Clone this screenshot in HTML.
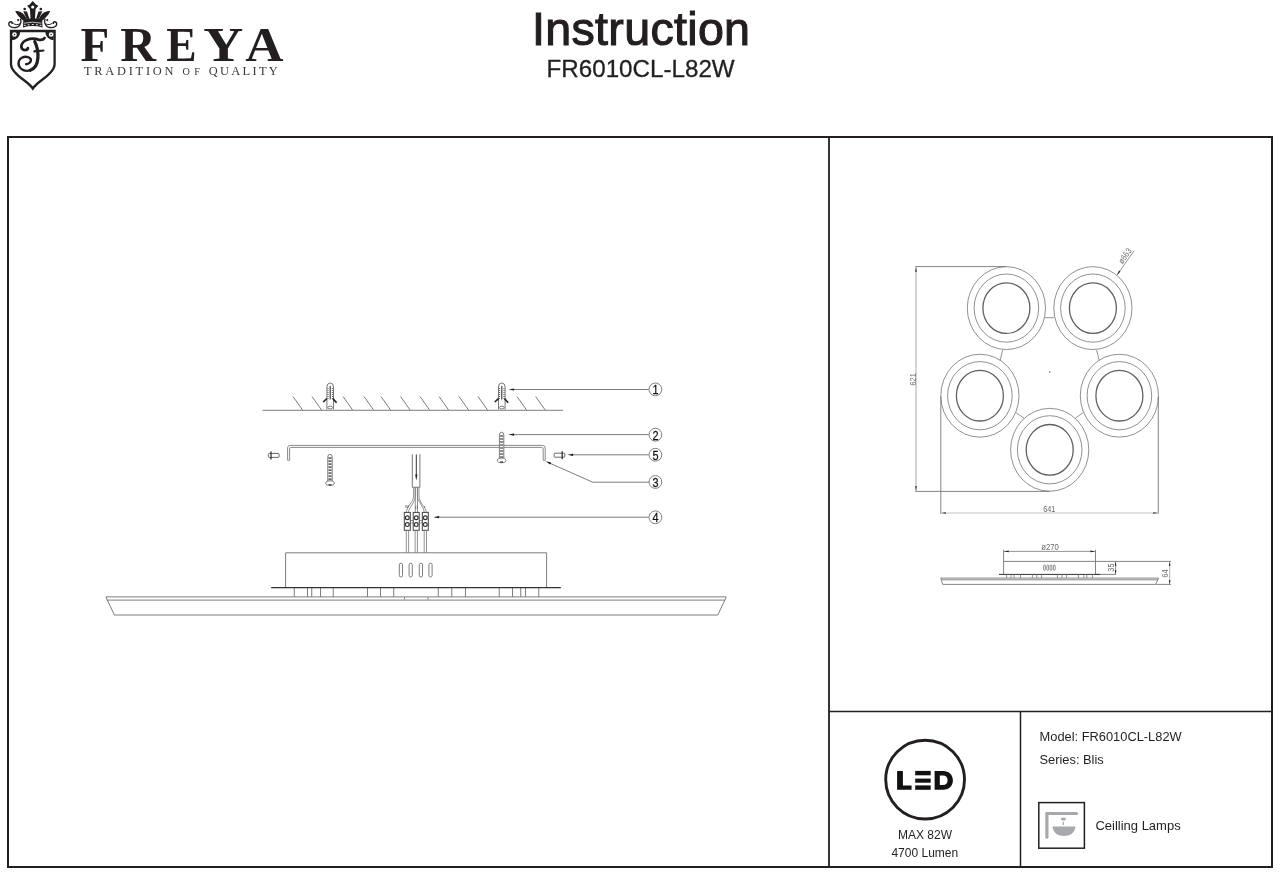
<!DOCTYPE html>
<html>
<head>
<meta charset="utf-8">
<style>
html,body{margin:0;padding:0;background:#fff;}
body{width:1280px;height:875px;overflow:hidden;position:relative;font-family:"Liberation Sans",sans-serif;}
svg{position:absolute;left:0;top:0;will-change:transform;}
</style>
</head>
<body>
<svg width="1280" height="875" viewBox="0 0 1280 875">
<!-- FRAME -->
<g fill="none" stroke="#231f20">
  <rect x="8" y="137" width="1264" height="730" stroke-width="2"/>
  <line x1="829" y1="137" x2="829" y2="867" stroke-width="1.8"/>
  <line x1="829" y1="711.5" x2="1272" y2="711.5" stroke-width="1.5"/>
  <line x1="1020.5" y1="711.5" x2="1020.5" y2="867" stroke-width="1.5"/>
</g>
<!-- HEADER -->
<g fill="#231f20" font-family="Liberation Sans">
  <text x="641.2" y="45.1" font-size="46.6" letter-spacing="0.3" text-anchor="middle" stroke="#231f20" stroke-width="1.1">Instruction</text>
  <text x="640.6" y="77.3" font-size="24.2" text-anchor="middle" stroke="#231f20" stroke-width="0.3">FR6010CL-L82W</text>
</g>
<!-- LOGO TEXT -->
<g fill="#231f20" font-family="Liberation Serif" font-weight="bold" font-size="49.5">
  <text transform="translate(80.6,60.9) scale(0.95,1)">F</text>
  <text transform="translate(120.3,60.9) scale(1.0,1)">R</text>
  <text transform="translate(166.3,60.9) scale(0.92,1)">E</text>
  <text transform="translate(203.2,60.9) scale(1.12,1)">Y</text>
  <text transform="translate(245.2,60.9) scale(1.07,1)">A</text>
</g>
<g fill="#3a3738" font-family="Liberation Serif" font-size="12.4">
  <text x="84" y="74.8" textLength="89.4" lengthAdjust="spacing">TRADITION</text>
  <text x="182.6" y="74.8" font-size="10.2" textLength="17.4" lengthAdjust="spacing">OF</text>
  <text x="208.8" y="74.8" textLength="69" lengthAdjust="spacing">QUALITY</text>
</g>
<!-- @LOGO -->
<!-- LOGO SHIELD -->
<g fill="#231f20">
<path d="M11.0,31.0 H54.6 V64.5 C54.6,70 47.6,76 40.6,81 C36.6,84 34.3,86.2 32.8,88.6 C31.3,86.2 29,84 25,81 C18,76 11.0,70 11.0,64.5 Z" fill="none" stroke="#231f20" stroke-width="2.3" stroke-linejoin="miter" stroke-miterlimit="10"/>
<path d="M12,32 H20.2 A8.2,8.2 0 0 1 12,40.2 Z"/>
<path d="M53.6,32 H45.4 A8.2,8.2 0 0 0 53.6,40.2 Z"/>
<circle cx="14.5" cy="34.5" r="2.3" fill="#fff"/><circle cx="14.5" cy="34.5" r="0.8"/>
<circle cx="51.1" cy="34.5" r="2.3" fill="#fff"/><circle cx="51.1" cy="34.5" r="0.8"/>
<path d="M23.3,20.2 Q32.74,17.6 42.2,20.2 L42.5,27.4 Q32.74,24.8 23,27.4 Z"/>
<path d="M23.3,20.4 L25.5,18.4 H40 L42.2,20.4 Z"/>
<path d="M24,23.2 Q32.74,21.2 41.5,23.2" fill="none" stroke="#fff" stroke-width="0.7"/>
<ellipse cx="24.90" cy="25.30" rx="1.1" ry="0.55" fill="#fff"/>
<ellipse cx="28.60" cy="24.70" rx="1.1" ry="0.55" fill="#fff"/>
<ellipse cx="32.74" cy="24.50" rx="1.1" ry="0.55" fill="#fff"/>
<ellipse cx="36.90" cy="24.70" rx="1.1" ry="0.55" fill="#fff"/>
<ellipse cx="40.60" cy="25.30" rx="1.1" ry="0.55" fill="#fff"/>
<path d="M32.74,1.0 L29.6,4.5 L27.1,5.7 L29.9,9 L30.6,19.5 H34.9 L35.6,9 L38.4,5.7 L35.9,4.5 Z"/>
<circle cx="32.74" cy="7.0" r="1.6" fill="#fff"/>
<path d="M15.26,11.14 C19.3,10.9 24,12.6 26.6,19.2 L23.2,20.5 C21,19 17.6,15.6 15.26,11.14 Z"/>
<path d="M50.22,11.14 C46.18,10.9 41.48,12.6 38.88,19.2 L42.28,20.5 C44.48,19 47.88,15.6 50.22,11.14 Z"/>
<path d="M23.2,11.3 L27.0,11.5 L29.4,18.8 L26.6,18.8 Z"/>
<path d="M42.28,11.3 L38.48,11.5 L36.08,18.8 L38.88,18.8 Z"/>
<circle cx="24.7" cy="9" r="1.35"/><circle cx="40.8" cy="9" r="1.35"/>
<path d="M20.50,19.3 C21.60,21.5 20.50,25.5 17.80,26.8 C15.50,27.8 12.00,27.6 10.20,26.5 C8.30,25.3 8.30,22.8 10.00,22 C11.00,21.5 12.30,22 12.20,23" fill="none" stroke="#231f20" stroke-width="1.4" stroke-linecap="round"/>
<path d="M13.30,23.3 C14.80,24.7 17.60,25.1 19.90,23.8" fill="none" stroke="#231f20" stroke-width="1"/>
<circle cx="18.20" cy="20.1" r="1.05"/>
<circle cx="12.10" cy="23.1" r="0.9"/>
<path d="M44.98,19.3 C43.88,21.5 44.98,25.5 47.68,26.8 C49.98,27.8 53.48,27.6 55.28,26.5 C57.18,25.3 57.18,22.8 55.48,22 C54.48,21.5 53.18,22 53.28,23" fill="none" stroke="#231f20" stroke-width="1.4" stroke-linecap="round"/>
<path d="M52.18,23.3 C50.68,24.7 47.88,25.1 45.58,23.8" fill="none" stroke="#231f20" stroke-width="1"/>
<circle cx="47.28" cy="20.1" r="1.05"/>
<circle cx="53.38" cy="23.1" r="0.9"/>
<g fill="none" stroke="#231f20" stroke-linecap="round">
<path d="M27.9,48.0 C27.6,50.4 23.6,50.8 22.0,48.6 C20.3,46.2 22.0,41.6 26.5,39.9 C30.5,38.4 35.5,38.6 38.5,39.6 C40.8,40.3 43.2,39.9 44.6,38.0" stroke-width="2.7"/>
<path d="M34.8,41.6 C36.9,46 38.3,52 37.9,58 C37.5,63.5 35.6,68.4 30.3,70.2" stroke-width="3.3"/>
<path d="M30.3,70.2 C25.3,72 20.6,69.6 19.1,66.1 C17.6,62.6 19.1,58.6 22.6,57.3 C26.1,56 30.6,57.3 30.9,60 C31.1,62.3 28.6,64 26.1,64.2" stroke-width="2.4"/>
<path d="M34.4,51.4 C37.5,50.6 40.5,51.2 43.4,50.5" stroke-width="2.2"/>
</g>
</g>
<!-- @END_LOGO -->
<!-- @LEFT -->
<!-- LEFT DIAGRAM -->
<g fill="none" stroke="#7d7d7d" stroke-width="1">
<line x1="262.5" y1="410.3" x2="563" y2="410.3"/>
<line x1="293.0" y1="396.5" x2="302.8" y2="410.3"/>
<line x1="312.0" y1="396.5" x2="321.8" y2="410.3"/>
<line x1="343.0" y1="396.5" x2="352.8" y2="410.3"/>
<line x1="364.0" y1="396.5" x2="373.8" y2="410.3"/>
<line x1="381.0" y1="396.5" x2="390.8" y2="410.3"/>
<line x1="400.5" y1="396.5" x2="410.3" y2="410.3"/>
<line x1="420.0" y1="396.5" x2="429.8" y2="410.3"/>
<line x1="439.0" y1="396.5" x2="448.8" y2="410.3"/>
<line x1="459.0" y1="396.5" x2="468.8" y2="410.3"/>
<line x1="478.0" y1="396.5" x2="487.8" y2="410.3"/>
<line x1="517.0" y1="396.5" x2="526.8" y2="410.3"/>
<line x1="535.6" y1="396.5" x2="545.4" y2="410.3"/>
</g>
<g fill="none" stroke="#666" stroke-width="0.9">
<path d="M326.9,409.5 V387 Q326.9,383 330.2,383 Q333.5,383 333.5,387 V409.5"/>
<ellipse cx="330.2" cy="407.6" rx="2.4" ry="1.4"/>
<line x1="328.0" y1="388" x2="328.0" y2="399" stroke-dasharray="1,1" stroke="#444"/>
<line x1="332.4" y1="388" x2="332.4" y2="399" stroke-dasharray="1,1" stroke="#444"/>
</g>
<line x1="330.2" y1="386" x2="330.2" y2="399.4" stroke="#333" stroke-width="1.1"/>
<line x1="326.8" y1="398.6" x2="323.2" y2="402" stroke="#222" stroke-width="1.6"/>
<line x1="332.9" y1="398.6" x2="336.6" y2="402.8" stroke="#222" stroke-width="1.6"/>
<g fill="none" stroke="#666" stroke-width="0.9">
<path d="M498.5,409.5 V387 Q498.5,383 501.8,383 Q505.1,383 505.1,387 V409.5"/>
<ellipse cx="501.8" cy="407.6" rx="2.4" ry="1.4"/>
<line x1="499.6" y1="388" x2="499.6" y2="399" stroke-dasharray="1,1" stroke="#444"/>
<line x1="504.0" y1="388" x2="504.0" y2="399" stroke-dasharray="1,1" stroke="#444"/>
</g>
<line x1="501.8" y1="386" x2="501.8" y2="399.4" stroke="#333" stroke-width="1.1"/>
<line x1="498.4" y1="398.6" x2="494.8" y2="402" stroke="#222" stroke-width="1.6"/>
<line x1="504.5" y1="398.6" x2="508.2" y2="402.8" stroke="#222" stroke-width="1.6"/>
<g fill="none" stroke="#7d7d7d" stroke-width="1">
<line x1="512" y1="389.5" x2="648.8" y2="389.5"/>
<line x1="512" y1="434.6" x2="648.8" y2="434.6"/>
<line x1="571" y1="454.8" x2="648.8" y2="454.8"/>
<polyline points="548.5,462.6 592.7,482.2 648.8,482.2"/>
<line x1="436.5" y1="517.2" x2="648.8" y2="517.2"/>
</g>
<path d="M508.30,389.50 L514.10,388.40 L514.10,390.60 Z" fill="#1a1a1a"/>
<path d="M508.30,434.60 L514.10,433.50 L514.10,435.70 Z" fill="#1a1a1a"/>
<path d="M567.30,454.80 L573.10,453.70 L573.10,455.90 Z" fill="#1a1a1a"/>
<path d="M545.40,461.20 L551.15,462.55 L550.26,464.56 Z" fill="#1a1a1a"/>
<path d="M433.30,517.20 L439.10,516.10 L439.10,518.30 Z" fill="#1a1a1a"/>
<g fill="none" stroke="#808080" stroke-width="1">
<circle cx="655.4" cy="389.4" r="6.4"/>
<circle cx="655.4" cy="434.7" r="6.4"/>
<circle cx="655.4" cy="454.8" r="6.4"/>
<circle cx="655.4" cy="482.0" r="6.4"/>
<circle cx="655.4" cy="517.3" r="6.4"/>
</g>
<g fill="#111" stroke="#111" stroke-width="0.25" font-family="Liberation Sans" font-size="13" text-anchor="middle">
<text transform="translate(655.5,394.2) scale(0.84,1)">1</text>
<text transform="translate(655.5,439.5) scale(0.84,1)">2</text>
<text transform="translate(655.5,459.6) scale(0.84,1)">5</text>
<text transform="translate(655.5,486.8) scale(0.84,1)">3</text>
<text transform="translate(655.5,522.1) scale(0.84,1)">4</text>
</g>
<g fill="none" stroke="#7d7d7d" stroke-width="0.9">
<path d="M287.6,460.3 V448 Q287.6,445.4 290.2,445.4 H542.6 Q545.2,445.4 545.2,448 V460.3"/>
<path d="M289.6,460.3 V449 Q289.6,447.4 291.2,447.4 H541.6 Q543.2,447.4 543.2,449 V460.3"/>
<line x1="287.6" y1="460.3" x2="289.6" y2="460.3"/>
<line x1="543.2" y1="460.3" x2="545.2" y2="460.3"/>
</g>
<g fill="#fff" stroke="#6a6a6a" stroke-width="0.9">
<path d="M327.8,482.9 V457.3 Q327.8,454.3 330.0,454.3 Q332.2,454.3 332.2,457.3 V482.9" />
<ellipse cx="330.0" cy="483.1" rx="4.3" ry="2.3"/>
</g>
<line x1="330.0" y1="457.3" x2="330.0" y2="480.9" stroke="#666" stroke-width="3" stroke-dasharray="1.6,1.4"/>
<line x1="328.5" y1="484.8" x2="331.5" y2="484.8" stroke="#444" stroke-width="1.4"/>
<g fill="#fff" stroke="#6a6a6a" stroke-width="0.9">
<path d="M499.4,460.2 V435.2 Q499.4,432.2 501.6,432.2 Q503.8,432.2 503.8,435.2 V460.2" />
<ellipse cx="501.6" cy="460.4" rx="4.3" ry="2.3"/>
</g>
<line x1="501.6" y1="435.2" x2="501.6" y2="458.2" stroke="#666" stroke-width="3" stroke-dasharray="1.6,1.4"/>
<line x1="500.1" y1="462.1" x2="503.1" y2="462.1" stroke="#444" stroke-width="1.4"/>
<g fill="none" stroke="#555" stroke-width="0.9">
<rect x="554.1" y="453.2" width="10.7" height="4" rx="1"/>
</g>
<line x1="562.2" y1="451.2" x2="562.2" y2="459.2" stroke="#333" stroke-width="1.3"/>
<g fill="none" stroke="#555" stroke-width="0.9">
<rect x="268.4" y="453.4" width="10.7" height="4" rx="1"/>
</g>
<line x1="271.0" y1="451.4" x2="271.0" y2="459.4" stroke="#333" stroke-width="1.3"/>
<g fill="none" stroke="#666" stroke-width="0.9">
<path d="M412.3,454.2 V487.3 H419.9 V454.2"/>
</g>
<line x1="416.3" y1="454.5" x2="416.3" y2="475" stroke="#333" stroke-width="1"/>
<path d="M416.30,480.50 L415.20,474.50 L417.40,474.50 Z" fill="#1a1a1a"/>
<g fill="none" stroke="#777" stroke-width="0.8">
<path d="M413.6,487.5 V496 C413.6,502 407,506 406.3,512.4"/>
<path d="M415.2,487.5 V496 C415.2,503 409,507 408.5,512.4"/>
<path d="M415.3,487.5 V512.4 M417.5,487.5 V512.4"/>
<path d="M417.4,487.5 V496 C417.4,502 424,506 424.2,512.4"/>
<path d="M419,487.5 V496 C419,503 426,507 426.4,512.4"/>
</g>
<g fill="#fff" stroke="#444" stroke-width="1">
<line x1="407" y1="521.8" x2="426" y2="521.8" stroke-width="2.8" stroke="#444"/>
<rect x="404.3" y="512.4" width="6" height="17.9"/>
<circle cx="407.3" cy="517.7" r="1.9" stroke-width="1.2" stroke="#333"/>
<circle cx="407.3" cy="524.6" r="1.9" stroke-width="1.2" stroke="#333"/>
<rect x="413.2" y="512.4" width="6" height="17.9"/>
<circle cx="416.2" cy="517.7" r="1.9" stroke-width="1.2" stroke="#333"/>
<circle cx="416.2" cy="524.6" r="1.9" stroke-width="1.2" stroke="#333"/>
<rect x="422.3" y="512.4" width="6" height="17.9"/>
<circle cx="425.3" cy="517.7" r="1.9" stroke-width="1.2" stroke="#333"/>
<circle cx="425.3" cy="524.6" r="1.9" stroke-width="1.2" stroke="#333"/>
<circle cx="411.8" cy="521.8" r="1.1" fill="#fff" stroke="none"/>
<circle cx="420.8" cy="521.8" r="1.1" fill="#fff" stroke="none"/>
</g>
<g fill="none" stroke="#777" stroke-width="0.8">
<line x1="406.3" y1="530.3" x2="406.3" y2="552.8"/>
<line x1="408.6" y1="530.3" x2="408.6" y2="552.8"/>
<line x1="415.1" y1="530.3" x2="415.1" y2="552.8"/>
<line x1="417.4" y1="530.3" x2="417.4" y2="552.8"/>
<line x1="424.2" y1="530.3" x2="424.2" y2="552.8"/>
<line x1="426.5" y1="530.3" x2="426.5" y2="552.8"/>
</g>
<g fill="#333" font-family="Liberation Sans" font-size="4">
<text x="405" y="508">W</text><text x="414.8" y="508.5">O</text><text x="424" y="508">r</text>
</g>
<g fill="none" stroke="#7d7d7d" stroke-width="1">
<path d="M285.6,587.5 V552.8 H546.6 V587.5"/>
<rect x="399.30" y="563.2" width="3.2" height="13.8" rx="1.6"/>
<rect x="409.10" y="563.2" width="3.2" height="13.8" rx="1.6"/>
<rect x="419.30" y="563.2" width="3.2" height="13.8" rx="1.6"/>
<rect x="428.90" y="563.2" width="3.2" height="13.8" rx="1.6"/>
<line x1="294.25" y1="588" x2="294.25" y2="597"/>
<line x1="307.50" y1="588" x2="307.50" y2="597"/>
<line x1="311.75" y1="588" x2="311.75" y2="597"/>
<line x1="320.50" y1="588" x2="320.50" y2="597"/>
<line x1="333.25" y1="588" x2="333.25" y2="597"/>
<line x1="367.50" y1="588" x2="367.50" y2="597"/>
<line x1="380.50" y1="588" x2="380.50" y2="597"/>
<line x1="393.75" y1="588" x2="393.75" y2="597"/>
<line x1="438.25" y1="588" x2="438.25" y2="597"/>
<line x1="451.75" y1="588" x2="451.75" y2="597"/>
<line x1="465.50" y1="588" x2="465.50" y2="597"/>
<line x1="499.25" y1="588" x2="499.25" y2="597"/>
<line x1="512.50" y1="588" x2="512.50" y2="597"/>
<line x1="520.75" y1="588" x2="520.75" y2="597"/>
<line x1="525.50" y1="588" x2="525.50" y2="597"/>
<line x1="538.75" y1="588" x2="538.75" y2="597"/>
<path d="M105.9,596.9 H726.3 L717.8,615 H114.4 Z"/>
<line x1="106.8" y1="600.1" x2="725" y2="600.1"/>
<path d="M404.5,597 V599.5 M428,597 V599.5"/>
</g>
<line x1="271.2" y1="587.6" x2="560.8" y2="587.6" stroke="#333" stroke-width="1.3"/>
<!-- @END_LEFT -->
<!-- @RIGHT -->
<!-- RIGHT TOP VIEW -->
<g fill="none" stroke="#7c7c7c" stroke-width="0.85">
<ellipse cx="1006.4" cy="308.1" rx="39.1" ry="41.45"/>
<ellipse cx="1006.4" cy="308.1" rx="32.3" ry="34.1"/>
<ellipse cx="1092.9" cy="308.1" rx="39.1" ry="41.45"/>
<ellipse cx="1092.9" cy="308.1" rx="32.3" ry="34.1"/>
<ellipse cx="979.9" cy="395.7" rx="39.1" ry="41.45"/>
<ellipse cx="979.9" cy="395.7" rx="32.3" ry="34.1"/>
<ellipse cx="1119.4" cy="395.7" rx="39.1" ry="41.45"/>
<ellipse cx="1119.4" cy="395.7" rx="32.3" ry="34.1"/>
<ellipse cx="1049.7" cy="449.8" rx="39.1" ry="41.45"/>
<ellipse cx="1049.7" cy="449.8" rx="32.3" ry="34.1"/>
</g>
<g fill="none" stroke="#606060" stroke-width="1.3">
<ellipse cx="1006.4" cy="308.1" rx="23.5" ry="25.3"/>
<ellipse cx="1092.9" cy="308.1" rx="23.5" ry="25.3"/>
<ellipse cx="979.9" cy="395.7" rx="23.5" ry="25.3"/>
<ellipse cx="1119.4" cy="395.7" rx="23.5" ry="25.3"/>
<ellipse cx="1049.7" cy="449.8" rx="23.5" ry="25.3"/>
</g>
<g fill="none" stroke="#888" stroke-width="0.9">
<line x1="1045" y1="317.7" x2="1054.2" y2="317.7"/>
<line x1="1002.6" y1="350" x2="1000.3" y2="360"/>
<line x1="1096.6" y1="350" x2="1099.1" y2="360"/>
<line x1="1015.5" y1="412.4" x2="1024.2" y2="418.2"/>
<line x1="1083.6" y1="412.4" x2="1075.3" y2="418.2"/>
</g>
<circle cx="1049.8" cy="372" r="0.7" fill="#444"/>
<g fill="none" stroke="#777" stroke-width="0.9">
<line x1="915.3" y1="266.6" x2="1006.3" y2="266.6"/>
<line x1="915.3" y1="491.4" x2="1049.7" y2="491.4"/>
<line x1="940.8" y1="396.4" x2="940.8" y2="513.8"/>
<line x1="1158.3" y1="396.4" x2="1158.3" y2="513.8"/>
</g>
<line x1="916" y1="267" x2="916" y2="491" stroke="#aaa" stroke-width="1"/>
<line x1="941" y1="513" x2="1158" y2="513" stroke="#c4c4c4" stroke-width="1"/>
<path d="M916.00,267.20 L916.80,271.70 L915.20,271.70 Z" fill="#222"/>
<path d="M916.00,490.80 L915.20,486.30 L916.80,486.30 Z" fill="#222"/>
<path d="M941.30,513.00 L945.80,512.20 L945.80,513.80 Z" fill="#222"/>
<path d="M1157.80,513.00 L1153.30,513.80 L1153.30,512.20 Z" fill="#222"/>
<line x1="1117" y1="275" x2="1134" y2="250.8" stroke="#888" stroke-width="0.9"/>
<path d="M1116.90,275.20 L1119.08,270.62 L1120.47,271.60 Z" fill="#222"/>
<g fill="#6a6a6a" font-family="Liberation Sans" font-size="8.6">
<text x="1049.3" y="512.4" text-anchor="middle" transform="translate(1049.3,0) scale(0.85,1) translate(-1049.3,0)">641</text>
<text transform="translate(915.6,379.4) rotate(-90) scale(0.85,1)" text-anchor="middle">621</text>
<text transform="translate(1127.2,257.6) rotate(-54.8) scale(0.85,1)" text-anchor="middle">ø663</text>
</g>
<!-- RIGHT SIDE VIEW -->
<g fill="none" stroke="#777" stroke-width="0.9">
<line x1="1003.6" y1="549.8" x2="1003.6" y2="574.2"/>
<line x1="1095.5" y1="549.8" x2="1095.5" y2="574.2"/>
<line x1="1003.6" y1="561.4" x2="1171" y2="561.4"/>
<line x1="1095.5" y1="574.4" x2="1116" y2="574.4"/>
<line x1="1156" y1="584.4" x2="1171" y2="584.4"/>
<path d="M940.7,578.1 H1158.6 L1155.6,584.4 H942.7 Z"/>
<line x1="941.5" y1="579.8" x2="1157.8" y2="579.8"/>
</g>
<line x1="1004" y1="551.4" x2="1095" y2="551.4" stroke="#888" stroke-width="0.9"/>
<path d="M1004.20,551.40 L1008.70,550.55 L1008.70,552.25 Z" fill="#222"/>
<path d="M1095.00,551.40 L1090.50,552.25 L1090.50,550.55 Z" fill="#222"/>
<line x1="1115.6" y1="561.6" x2="1115.6" y2="574.2" stroke="#888" stroke-width="0.9"/>
<path d="M1115.60,561.80 L1116.40,565.80 L1114.80,565.80 Z" fill="#222"/>
<path d="M1115.60,574.20 L1114.80,570.20 L1116.40,570.20 Z" fill="#222"/>
<line x1="1169.7" y1="561.6" x2="1169.7" y2="584.2" stroke="#aaa" stroke-width="0.9"/>
<path d="M1169.70,561.80 L1170.50,565.80 L1168.90,565.80 Z" fill="#222"/>
<path d="M1169.70,584.20 L1168.90,580.20 L1170.50,580.20 Z" fill="#222"/>
<line x1="998.9" y1="574.4" x2="1100.2" y2="574.4" stroke="#333" stroke-width="1"/>
<g stroke="#777" stroke-width="0.8">
<line x1="1006.6" y1="574.5" x2="1006.6" y2="578"/>
<line x1="1011.0" y1="574.5" x2="1011.0" y2="578"/>
<line x1="1014.0" y1="574.5" x2="1014.0" y2="578"/>
<line x1="1020.5" y1="574.5" x2="1020.5" y2="578"/>
<line x1="1032.4" y1="574.5" x2="1032.4" y2="578"/>
<line x1="1036.8" y1="574.5" x2="1036.8" y2="578"/>
<line x1="1041.6" y1="574.5" x2="1041.6" y2="578"/>
<line x1="1057.4" y1="574.5" x2="1057.4" y2="578"/>
<line x1="1062.0" y1="574.5" x2="1062.0" y2="578"/>
<line x1="1066.6" y1="574.5" x2="1066.6" y2="578"/>
<line x1="1078.4" y1="574.5" x2="1078.4" y2="578"/>
<line x1="1083.8" y1="574.5" x2="1083.8" y2="578"/>
<line x1="1086.8" y1="574.5" x2="1086.8" y2="578"/>
<line x1="1092.4" y1="574.5" x2="1092.4" y2="578"/>
</g>
<g fill="none" stroke="#666" stroke-width="0.7">
<rect x="1043.6" y="565" width="1.8" height="5.4" rx="0.9"/>
<rect x="1046.8" y="565" width="1.8" height="5.4" rx="0.9"/>
<rect x="1050.1" y="565" width="1.8" height="5.4" rx="0.9"/>
<rect x="1053.4" y="565" width="1.8" height="5.4" rx="0.9"/>
</g>
<g fill="#6a6a6a" font-family="Liberation Sans" font-size="8.6">
<text transform="translate(1050,550.4) scale(0.9,1)" text-anchor="middle">ø270</text>
<text transform="translate(1114.2,567.6) rotate(-90) scale(0.85,1)" text-anchor="middle">35</text>
<text transform="translate(1168.3,573.5) rotate(-90) scale(0.85,1)" text-anchor="middle">64</text>
</g>
<!-- @END_RIGHT -->
<!-- BOTTOM PANELS -->
<g fill="none" stroke="#231f20">
  <circle cx="925.1" cy="779.6" r="39.4" stroke-width="2.9"/>
  <rect x="1038.8" y="802.6" width="45.6" height="45.6" stroke-width="1.5"/>
</g>
<g fill="#111">
  <path d="M897.1,770.9 H902.9 V785.4 H911.6 V789.8 H897.1 Z"/>
  <rect x="915.2" y="770.9" width="15.5" height="4.4"/>
  <rect x="915.2" y="778.6" width="15.5" height="4.1"/>
  <rect x="915.2" y="785.4" width="15.5" height="4.4"/>
  <path d="M934.6,770.9 H943.3 C949.2,770.9 952.9,774.8 952.9,780.35 C952.9,785.9 949.2,789.8 943.3,789.8 H934.6 Z M939.8,775.6 V785.1 H943 C946,785.1 947.6,783.1 947.6,780.35 C947.6,777.6 946,775.6 943,775.6 Z" fill-rule="evenodd"/>
</g>
<g fill="#a7a9ac" stroke="none">
  <path d="M1046.9,813.5 H1076.5" stroke="#a7a9ac" stroke-width="3.2" stroke-linecap="round"/>
  <path d="M1046.9,813.5 V837.2" stroke="#a7a9ac" stroke-width="3.2" stroke-linecap="round"/>
  <rect x="1060.9" y="817.7" width="4.9" height="2.7" rx="1.3"/>
  <rect x="1062.7" y="821.8" width="1.3" height="3.2"/>
  <path d="M1052.9,826.4 H1075.1 Q1075.6,826.4 1075.4,827.6 C1074.6,832.6 1070,836.1 1064,836.1 C1058,836.1 1053.4,832.6 1052.6,827.6 Q1052.4,826.4 1052.9,826.4 Z"/>
</g>
<g fill="#231f20" font-family="Liberation Sans" font-size="12.0">
  <text x="925" y="838.7" text-anchor="middle">MAX 82W</text>
  <text x="924.8" y="857.1" text-anchor="middle">4700 Lumen</text>
  <text x="1039.6" y="741.3" font-size="12.85">Model: FR6010CL-L82W</text>
  <text x="1039.5" y="763.8" font-size="12.85">Series: Blis</text>
  <text x="1095.4" y="830" font-size="13">Ceilling Lamps</text>
</g>
</svg>
</body>
</html>
